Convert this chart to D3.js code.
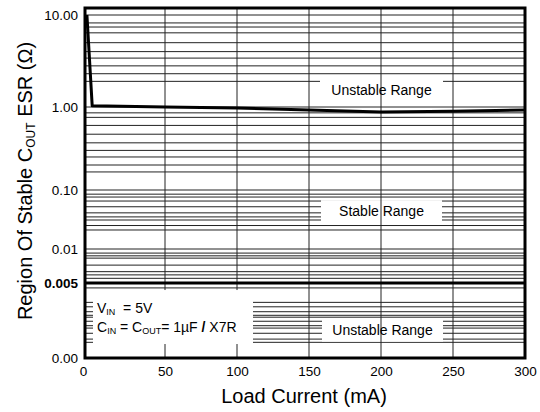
<!DOCTYPE html>
<html>
<head>
<meta charset="utf-8">
<script src="https://cdn.jsdelivr.net/npm/d3@7"></script>
<style>
  body { margin: 0; background: #fff; }
  svg { font-family: "Liberation Sans", Arial, sans-serif; }
</style>
</head>
<body>
<svg id="chart" width="540" height="412"></svg>
<script>
// ESR stability region vs load current

// boundary curve
var loadCurrent = [1.2, 4.5, 50, 100, 150, 200, 250, 300];
var esrLimit = [10, 1.03, 1.0, 0.97, 0.92, 0.87, 0.89, 0.92];

// axis ticks
var xTicks = [0, 50, 100, 150, 200, 250, 300];
var yTicks = [10, 1, 0.1, 0.01, 0.005, 0.001];
var yTickLabels = ["10.00", "1.00", "0.10", "0.01", "0.005", "0.00"];

// horizontal grid values as drawn in the datasheet
var minorGrid = [
  8.2, 7.4, 6.4, 5, 4, 3.4, 2.8, 2.3, 1.9,
  0.85, 0.75, 0.6, 0.47, 0.37, 0.3, 0.25, 0.2, 0.165,
  0.085, 0.076, 0.065, 0.052, 0.041, 0.035, 0.031, 0.025, 0.021,
  0.0092, 0.0087, 0.0083, 0.0072, 0.0063, 0.0059, 0.0055,
  0.0045, 0.0033, 0.003, 0.0027, 0.0025, 0.0024, 0.0022, 0.002, 0.0019, 0.0017, 0.0015, 0.0014
];

var svg = d3.select("#chart");
var plotLeft = 85, plotRight = 525, plotTop = 8, plotBottom = 358;

// piecewise scales, the original plot does not have even spacing
var x = d3.scaleLinear().domain([0, 50, 300]).range([plotLeft, 165, plotRight]);
var y = d3.scaleLog().domain(yTicks).range([15, 107, 190, 249, 283, plotBottom]);

///////////////////////////////////////////////////////////////////////////////
// grid

var grid = svg.append("g");

grid.selectAll("line.h")
  .data(minorGrid.concat([10, 1, 0.1, 0.01]))
  .enter().append("line")
  .attr("class", "h")
  .attr("x1", plotLeft).attr("x2", plotRight)
  .attr("y1", function (d) { return y(d); })
  .attr("y2", function (d) { return y(d); })
  .attr("stroke", "#222")
  .attr("stroke-width", 1);

// white boxes behind the range labels
var rangeBoxes = [
  { text: "Unstable Range", v: 1.53, x0: 320, x1: 443, h: 26 },
  { text: "Stable Range", v: 0.043, x0: 321, x1: 442, h: 23 },
  { text: "Unstable Range", v: 0.0018, x0: 322, x1: 443, h: 22 }
];

svg.selectAll("rect.range")
  .data(rangeBoxes)
  .enter().append("rect")
  .attr("class", "range")
  .attr("x", function (d) { return d.x0; })
  .attr("width", function (d) { return d.x1 - d.x0; })
  .attr("y", function (d) { return y(d.v) - d.h / 2; })
  .attr("height", function (d) { return d.h; })
  .attr("fill", "#fff");

svg.selectAll("line.v")
  .data(xTicks.slice(1, -1))
  .enter().append("line")
  .attr("class", "v")
  .attr("x1", function (d) { return x(d); })
  .attr("x2", function (d) { return x(d); })
  .attr("y1", plotTop).attr("y2", plotBottom)
  .attr("stroke", "#222")
  .attr("stroke-width", 1);

svg.selectAll("text.range")
  .data(rangeBoxes)
  .enter().append("text")
  .attr("class", "range")
  .attr("x", function (d) { return (d.x0 + d.x1) / 2; })
  .attr("y", function (d) { return y(d.v) + 4.5; })
  .attr("text-anchor", "middle")
  .attr("font-size", "14px")
  .text(function (d) { return d.text; });

// 0.005 boundary
svg.append("line")
  .attr("x1", plotLeft).attr("x2", plotRight)
  .attr("y1", y(0.005)).attr("y2", y(0.005))
  .attr("stroke", "#000")
  .attr("stroke-width", 3);

// conditions box
svg.append("rect")
  .attr("x", 93).attr("y", y(0.0043))
  .attr("width", 160).attr("height", y(0.00135) - y(0.0043))
  .attr("fill", "#fff");

var cond = svg.append("text")
  .attr("x", 97).attr("y", 313)
  .attr("font-size", "14px");
cond.append("tspan").text("V");
cond.append("tspan").attr("font-size", "9px").attr("dy", 2).text("IN");
cond.append("tspan").attr("dy", -2).attr("xml:space", "preserve").text("  = 5V");

var cond2 = svg.append("text")
  .attr("x", 97).attr("y", 332)
  .attr("font-size", "14px");
cond2.append("tspan").text("C");
cond2.append("tspan").attr("font-size", "9px").attr("dy", 2).text("IN");
cond2.append("tspan").attr("dy", -2).text(" = C");
cond2.append("tspan").attr("font-size", "9px").attr("dy", 2).text("OUT");
cond2.append("tspan").attr("dy", -2).text("= 1\u00b5F ");
cond2.append("tspan").attr("font-weight", "bold").text("/");
cond2.append("tspan").text(" X7R");

///////////////////////////////////////////////////////////////////////////////
// curve

var line = d3.line()
  .x(function (d) { return x(d[0]); })
  .y(function (d) { return y(d[1]); });

svg.append("path")
  .datum(d3.zip(loadCurrent, esrLimit))
  .attr("d", line)
  .attr("fill", "none")
  .attr("stroke", "#000")
  .attr("stroke-width", 3)
  .attr("stroke-linejoin", "round");

// frame
svg.append("rect")
  .attr("x", plotLeft).attr("y", plotTop)
  .attr("width", plotRight - plotLeft).attr("height", plotBottom - plotTop)
  .attr("fill", "none")
  .attr("stroke", "#000")
  .attr("stroke-width", 3);

///////////////////////////////////////////////////////////////////////////////
// axes

var xAxis = svg.append("g")
  .attr("transform", "translate(0," + plotBottom + ")")
  .call(d3.axisBottom(x).tickValues(xTicks).tickSize(0).tickPadding(8));
xAxis.select(".domain").remove();
xAxis.selectAll("text")
  .attr("font-size", "13.5px")
  .attr("font-family", "Liberation Sans, Arial, sans-serif")
  .attr("fill", "#000");
xAxis.selectAll(".tick").filter(function (d) { return d === 0; })
  .select("text").attr("dx", -2);

var yAxis = svg.append("g")
  .attr("transform", "translate(" + (plotLeft - 4) + ",0)")
  .call(d3.axisLeft(y).tickValues(yTicks).tickSize(0)
    .tickFormat(function (d, i) { return yTickLabels[i]; }));
yAxis.select(".domain").remove();
yAxis.selectAll("text")
  .attr("font-size", "13.5px")
  .attr("font-family", "Liberation Sans, Arial, sans-serif")
  .attr("fill", "#000")
  .attr("font-weight", function (d) { return d === 0.005 ? "bold" : null; });

svg.append("text")
  .attr("x", 304).attr("y", 403)
  .attr("text-anchor", "middle")
  .attr("font-size", "20px")
  .text("Load Current (mA)");

var ylab = svg.append("text")
  .attr("transform", "translate(32,181) rotate(-90)")
  .attr("text-anchor", "middle")
  .attr("font-size", "20px");
ylab.append("tspan").text("Region Of Stable C");
ylab.append("tspan").attr("font-size", "12px").attr("dy", 3).text("OUT");
ylab.append("tspan").attr("dy", -3).text(" ESR (\u03a9)");
</script>
</body>
</html>
